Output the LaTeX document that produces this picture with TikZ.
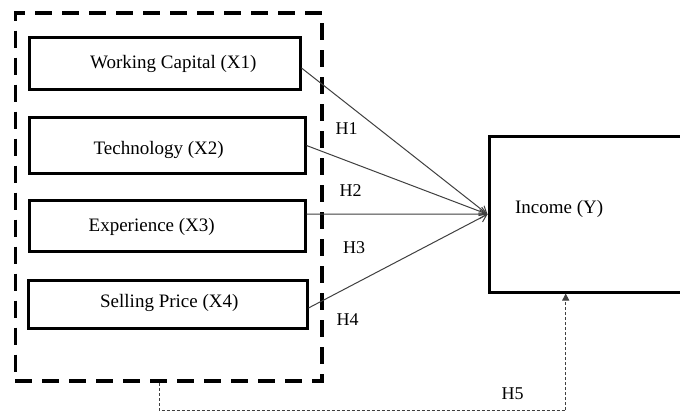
\documentclass[tikz,border=0pt]{standalone}
\usepackage{fontspec}
\setmainfont{Liberation Serif}
\usetikzlibrary{arrows.meta,calc}
\begin{document}
\begin{tikzpicture}[x=1pt,y=-1pt,
  varbox/.style={draw=black,line width=3pt,inner sep=0pt,rectangle},
  grpbox/.style={draw=black,line width=3.6pt,dash pattern=on 17pt off 10pt,inner sep=0pt,rectangle},
  lbl/.style={font=\fontsize{19}{23}\selectfont,text=black,inner sep=0pt,anchor=base},
  hyp/.style={font=\fontsize{18}{22}\selectfont,text=black,inner sep=0pt,anchor=base},
  link/.style={draw=black!75,line width=1pt,-{Straight Barb[length=7pt,width=9pt]}},
  dlink/.style={draw=black!75,line width=0.9pt,dash pattern=on 3pt off 2pt,-{Triangle[length=7pt,width=7pt]}}
]
\useasboundingbox (0,0) rectangle (680,412);
\clip (0,0) rectangle (680,412);
\fill[white] (0,0) rectangle (680,412);

\node[grpbox,minimum width=306.7pt,minimum height=368pt] (grp) at (168.65,197) {};
\node[varbox,minimum width=271pt,minimum height=51.5pt] (x1) at (164.5,63.25) {};
\node[varbox,minimum width=276pt,minimum height=56pt] (x2) at (167,145.5) {};
\node[varbox,minimum width=276pt,minimum height=51pt] (x3) at (167,225.5) {};
\node[varbox,minimum width=279pt,minimum height=48pt] (x4) at (167.5,304.5) {};
\node[varbox,minimum width=211pt,minimum height=155.5pt] (inc) at (594.5,214.25) {};

\node[lbl] (t1) at (173.3,68.3) {Working Capital (X1)};
\node[lbl] (t2) at (158.7,154) {Technology (X2)};
\node[lbl] (t3) at (151.7,231.7) {Experience (X3)};
\node[lbl] (t4) at (169.3,307.3) {Selling Price (X4)};
\node[lbl] (ty) at (559.2,213.3) {Income (Y)};

\node[hyp] (h1) at (346.5,134) {H1};
\node[hyp] (h2) at (350.5,196) {H2};
\node[hyp] (h3) at (354,253.3) {H3};
\node[hyp] (h4) at (347.5,325) {H4};
\node[hyp] (h5) at (512.5,399) {H5};

\draw[link] ([yshift=-4.75pt]x1.east) -- (inc.west);
\draw[link] (x2.east) -- (inc.west);
\draw[link] ([yshift=11.5pt]x3.east) -- (inc.west);
\draw[link] ([yshift=-3.5pt]x4.east) -- (inc.west);
\draw[dlink] ([xshift=-9.15pt]grp.south) -- ++(0,28) -| ([xshift=-28.8pt]inc.south);
\end{tikzpicture}
\end{document}
